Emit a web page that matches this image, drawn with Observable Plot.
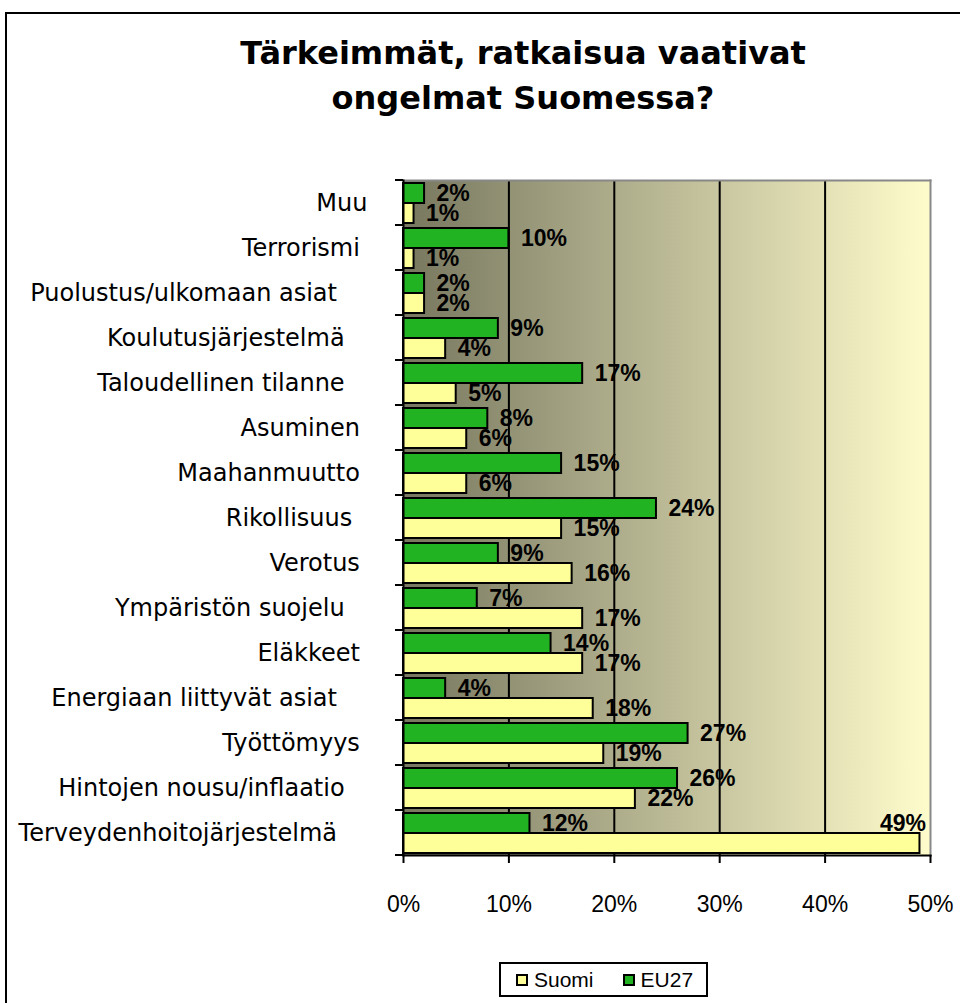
<!DOCTYPE html>
<html>
<head>
<meta charset="utf-8">
<script src="https://cdn.jsdelivr.net/npm/d3@7"></script>
<script src="https://cdn.jsdelivr.net/npm/@observablehq/plot@0.6"></script>
<style>
  html, body { margin: 0; padding: 0; background: #fff; }
  #wrap { position: relative; width: 960px; height: 1003px; overflow: hidden; background: #fff; }
  #frame { position: absolute; left: 5px; top: 12px; width: 2000px; height: 2000px;
           border-left: 2px solid #000; border-top: 2px solid #000; }
  #title { position: absolute; left: 0; top: 31px; width: 1046px; text-align: center;
           font-family: "DejaVu Sans", Verdana, sans-serif; font-weight: bold; font-size: 32px;
           line-height: 45px; color: #000; }
  #chart { position: absolute; left: 0; top: 0; }
  #legend { position: absolute; left: 499px; top: 962px; width: 209px; height: 35px; box-sizing: border-box;
            border: 2px solid #000; display: flex; align-items: center; padding-left: 15px;
            font-family: "Liberation Sans", Arial, sans-serif; font-size: 21px; color: #000; background: #fff; }
  .key { width: 12px; height: 12px; box-sizing: border-box; border: 2px solid #000; display: inline-block; margin-right: 6px; }
</style>
</head>
<body>
<div id="wrap">
  <div id="frame"></div>
  <div id="title">Tärkeimmät, ratkaisua vaativat<br>ongelmat Suomessa?</div>
  <div id="chart"></div>
  <div id="legend"></div>
</div>
<script>
// Categories, top to bottom (trailing non-breaking spaces as in the source labels)
const categories = [
  "Muu",
  "Terrorismi\u00a0",
  "Puolustus/ulkomaan asiat\u00a0\u00a0\u00a0\u00a0",
  "Koulutusjärjestelmä\u00a0\u00a0\u00a0",
  "Taloudellinen tilanne\u00a0\u00a0\u00a0",
  "Asuminen\u00a0",
  "Maahanmuutto\u00a0",
  "Rikollisuus\u00a0\u00a0",
  "Verotus\u00a0",
  "Ympäristön suojelu\u00a0\u00a0\u00a0",
  "Eläkkeet\u00a0",
  "Energiaan liittyvät asiat\u00a0\u00a0\u00a0\u00a0",
  "Työttömyys\u00a0",
  "Hintojen nousu/inflaatio\u00a0\u00a0\u00a0",
  "Terveydenhoitojärjestelmä\u00a0\u00a0\u00a0\u00a0"
];
const suomi = [1, 1, 2, 4, 5, 6, 6, 15, 16, 17, 17, 18, 19, 22, 49];
const eu27  = [2, 10, 2, 9, 17, 8, 15, 24, 9, 7, 14, 4, 27, 26, 12];
const seriesNames = ["Suomi", "EU27"];
const seriesColors = ["#ffff99", "#22b322"];
const xTicks = [0, 10, 20, 30, 40, 50];
const gridTicks = [10, 20, 30, 40];

const rows = categories.flatMap((c, i) => [
  {category: c, series: "EU27", value: eu27[i]},
  {category: c, series: "Suomi", value: suomi[i]}
]);

const labelFont = {fontWeight: "bold", fontSize: 23, fontFamily: "Liberation Sans, Arial, sans-serif", fill: "#000"};

const plot = Plot.plot({
  width: 960,
  height: 940,
  marginLeft: 403,
  marginRight: 30,
  marginTop: 174,
  marginBottom: 80,
  style: {background: "transparent", color: "#000", overflow: "visible"},
  x: {domain: [0, 50]},
  fy: {domain: categories, padding: 0},
  y: {domain: ["EU27", "Suomi"], paddingInner: 0, paddingOuter: 0.1, axis: null},
  color: {domain: seriesNames, range: seriesColors},
  marks: [
    Plot.frame({facet: "super", fill: "url(#bgGrad)", stroke: null}),
    Plot.ruleX(gridTicks, {stroke: "#000", strokeWidth: 2}),
    Plot.frame({facet: "super", anchor: "top", stroke: "#888", strokeWidth: 2}),
    Plot.frame({facet: "super", anchor: "right", stroke: "#888", strokeWidth: 2}),
    Plot.barX(rows, {fy: "category", y: "series", x: "value", fill: "series", stroke: "#000", strokeWidth: 2}),
    Plot.frame({facet: "super", anchor: "left", stroke: "#000", strokeWidth: 2}),
    Plot.frame({facet: "super", anchor: "bottom", stroke: "#000", strokeWidth: 2}),
    Plot.text(rows, {filter: d => d.value < 45, fy: "category", y: "series", x: "value",
      text: d => d.value + "%", textAnchor: "start", dx: 12, ...labelFont}),
    Plot.text(rows, {filter: d => d.value >= 45, fy: "category", y: () => "EU27", x: "value",
      text: d => d.value + "%", textAnchor: "end", dx: 6, ...labelFont}),
    Plot.axisX({anchor: "bottom", ticks: xTicks, tickSize: 8, tickPadding: 32, strokeWidth: 2,
      tickFormat: d => d + "%", fontSize: 23, fontFamily: "Liberation Sans, Arial, sans-serif", label: null}),
    Plot.axisFy({anchor: "left", tickSize: 0, tickPadding: 36, fontSize: 24,
      fontFamily: "DejaVu Sans, Verdana, sans-serif", label: null}),
    Plot.frame({facet: "super", stroke: "none", render: (I, scales, V, dims) => {
      const fy = scales.fy;
      const x0 = dims.marginLeft;
      const edges = categories.map(c => fy(c)).concat([fy(categories[categories.length - 1]) + fy.bandwidth()]);
      const g = d3.create("svg:g");
      g.selectAll("line").data(edges).join("line")
        .attr("x1", x0 - 8).attr("x2", x0)
        .attr("y1", d => d).attr("y2", d => d)
        .attr("stroke", "#000").attr("stroke-width", 2);
      return g.node();
    }})
  ]
});

const defs = d3.select(plot).insert("defs", ":first-child");
const lg = defs.append("linearGradient").attr("id", "bgGrad")
  .attr("x1", "0").attr("x2", "1").attr("y1", "0").attr("y2", "0");
lg.append("stop").attr("offset", "0").attr("stop-color", "#77775f");
lg.append("stop").attr("offset", "1").attr("stop-color", "#fffccc");

document.getElementById("chart").appendChild(plot);

// Legend
const legend = d3.select("#legend");
seriesNames.forEach((s, i) => {
  const item = legend.append("span").style("display", "inline-flex").style("align-items", "center")
    .style("margin-right", i === 0 ? "29px" : "0");
  item.append("span").attr("class", "key").style("background", seriesColors[i]);
  item.append("span").text(s);
});
</script>
</body>
</html>
